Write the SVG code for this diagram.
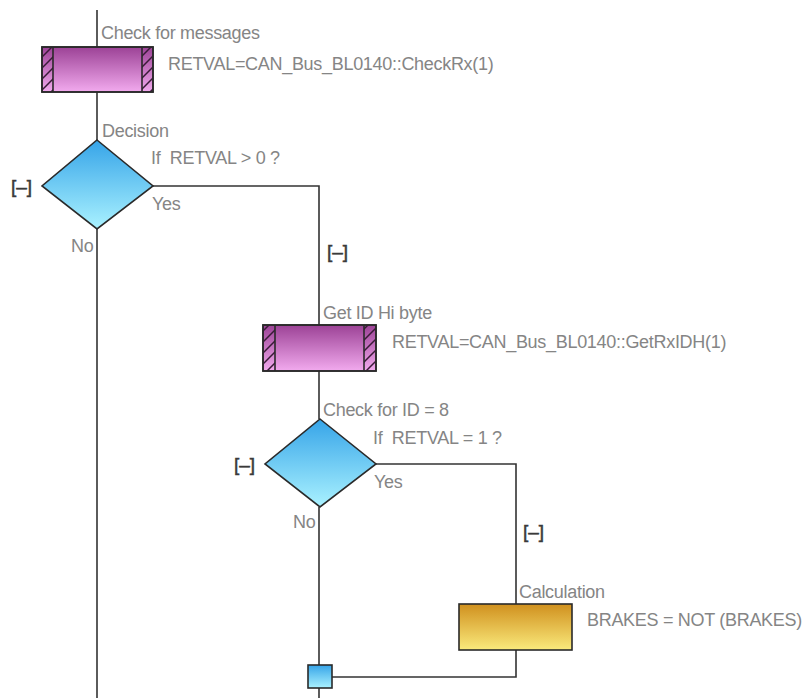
<svg xmlns="http://www.w3.org/2000/svg" width="811" height="698" viewBox="0 0 811 698">
<defs>
<linearGradient id="gMag" x1="0" y1="0" x2="0" y2="1"><stop offset="0" stop-color="#9c4296"/><stop offset="1" stop-color="#f2aaee"/></linearGradient>
<linearGradient id="gBlue" x1="0" y1="0" x2="0" y2="1"><stop offset="0" stop-color="#36a4e8"/><stop offset="1" stop-color="#aaf2ff"/></linearGradient>
<linearGradient id="gGold" x1="0" y1="0" x2="0" y2="1"><stop offset="0" stop-color="#d0901e"/><stop offset="1" stop-color="#faea7c"/></linearGradient>
<pattern id="hatch" width="11" height="11" patternUnits="userSpaceOnUse"><path d="M-1,12 L12,-1 M-2,2 L2,-2 M9,13 L13,9" stroke="#3a1a38" stroke-width="1.5" fill="none"/></pattern>
</defs>
<style>
.ln{stroke:#333;stroke-width:1.6;fill:none}
.box{stroke:#2a2a2a;stroke-width:1.6}
.lbl{font-family:"Liberation Sans",Arial,sans-serif;font-size:18px;fill:#858585;letter-spacing:-0.3px}
.br{font-family:"Liberation Sans",Arial,sans-serif;font-size:19px;fill:#3a3a3a;stroke:#3a3a3a;stroke-width:0.5}
</style>
<rect width="811" height="698" fill="#fff"/>
<g id="connectors">
<line class="ln" x1="97" y1="10" x2="97" y2="47"/>
<line class="ln" x1="97" y1="92" x2="97" y2="140"/>
<line class="ln" x1="97" y1="229" x2="97" y2="698"/>
<polyline class="ln" points="153,186 319,186 319,325"/>
<line class="ln" x1="319" y1="371" x2="319" y2="419"/>
<line class="ln" x1="319" y1="507" x2="319" y2="665"/>
<line class="ln" x1="319" y1="688" x2="319" y2="698"/>
<polyline class="ln" points="376,464 516,464 516,604"/>
<polyline class="ln" points="516,650 516,677 332,677"/>
</g>
<g id="n_check">
<rect class="box" x="42" y="47" width="111" height="45" fill="url(#gMag)"/>
<rect x="42" y="47" width="11" height="45" fill="url(#hatch)"/>
<rect x="142" y="47" width="11" height="45" fill="url(#hatch)"/>
<rect class="box" x="42" y="47" width="111" height="45" fill="none"/>
<line class="box" x1="53" y1="47" x2="53" y2="92"/>
<line class="box" x1="142" y1="47" x2="142" y2="92"/>
<text class="lbl" x="101" y="39">Check for messages</text>
<text class="lbl" x="168" y="70">RETVAL=CAN_Bus_BL0140::CheckRx(1)</text>
</g>
<g id="n_decision">
<polygon class="box" points="97,140 153,186 97,229 42,186" fill="url(#gBlue)"/>
<text class="lbl" x="102" y="137">Decision</text>
<text class="lbl" x="151" y="164" xml:space="preserve">If  RETVAL &gt; 0 ?</text>
<text class="lbl" x="152" y="210">Yes</text>
<text class="lbl" x="71" y="252">No</text>
<text class="br" x="11" y="193">[–]</text>
</g>
<text class="br" x="327" y="258">[–]</text>
<g id="n_getid">
<rect class="box" x="263" y="325" width="113" height="46" fill="url(#gMag)"/>
<rect x="263" y="325" width="12" height="46" fill="url(#hatch)"/>
<rect x="364" y="325" width="12" height="46" fill="url(#hatch)"/>
<rect class="box" x="263" y="325" width="113" height="46" fill="none"/>
<line class="box" x1="275" y1="325" x2="275" y2="371"/>
<line class="box" x1="364" y1="325" x2="364" y2="371"/>
<text class="lbl" x="323" y="319">Get ID Hi byte</text>
<text class="lbl" x="392" y="348">RETVAL=CAN_Bus_BL0140::GetRxIDH(1)</text>
</g>
<g id="n_checkid">
<polygon class="box" points="320,419 376,464 320,507 265,464" fill="url(#gBlue)"/>
<text class="lbl" x="323" y="416">Check for ID = 8</text>
<text class="lbl" x="373" y="444" xml:space="preserve">If  RETVAL = 1 ?</text>
<text class="lbl" x="374" y="488">Yes</text>
<text class="lbl" x="293" y="528">No</text>
<text class="br" x="234" y="471">[–]</text>
</g>
<text class="br" x="523" y="538">[–]</text>
<g id="n_calc">
<rect class="box" x="459" y="604" width="113" height="46" fill="url(#gGold)"/>
<text class="lbl" x="519" y="598">Calculation</text>
<text class="lbl" x="587" y="626">BRAKES = NOT (BRAKES)</text>
</g>
<g id="n_join">
<rect class="box" x="308" y="665" width="24" height="23" fill="url(#gBlue)"/>
</g>
</svg>
